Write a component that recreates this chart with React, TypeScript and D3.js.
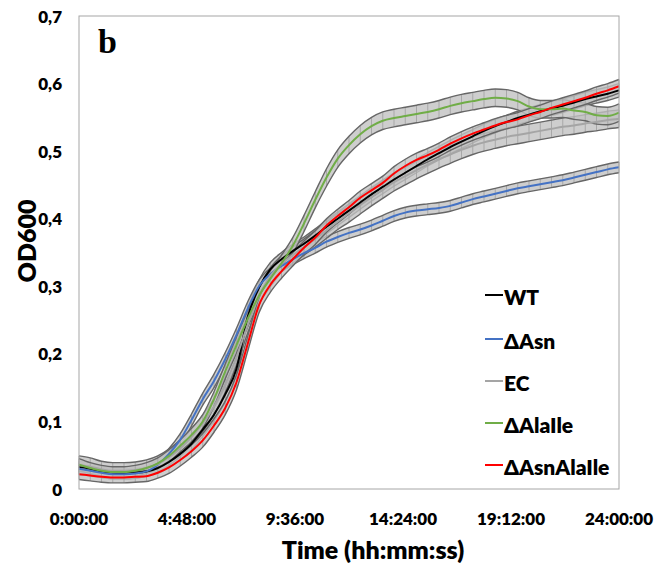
import React from "react";
import * as d3 from "d3";

// Time points (hours)
const hours = [0,0.5,1,1.5,2,2.5,3,3.5,4,4.5,5,5.5,6,6.5,7,7.5,8,8.5,9,9.5,10,10.5,11,11.5,12,12.5,13,13.5,14,14.5,15,15.5,16,16.5,17,17.5,18,18.5,19,19.5,20,20.5,21,21.5,22,22.5,23,23.5,24];

const seriesNames = ["WT", "ΔAsn", "EC", "ΔAlaIle", "ΔAsnAlaIle"];
const seriesColors = ["#000000", "#4472C4", "#A5A5A5", "#70AD47", "#FF0000"];

const wtMean = [0.033,0.030,0.026,0.024,0.023,0.024,0.026,0.031,0.040,0.052,0.067,0.088,0.110,0.140,0.178,0.255,0.298,0.325,0.340,0.352,0.363,0.375,0.388,0.400,0.412,0.424,0.436,0.447,0.458,0.468,0.478,0.488,0.497,0.506,0.514,0.522,0.530,0.537,0.543,0.549,0.554,0.559,0.563,0.567,0.572,0.577,0.581,0.585,0.590];
const wtSd = [0.008,0.008,0.007,0.007,0.007,0.007,0.007,0.008,0.008,0.009,0.009,0.010,0.010,0.011,0.011,0.011,0.011,0.010,0.010,0.010,0.010,0.010,0.010,0.010,0.010,0.010,0.010,0.010,0.010,0.010,0.010,0.010,0.010,0.010,0.010,0.010,0.010,0.010,0.010,0.010,0.010,0.010,0.010,0.010,0.010,0.010,0.010,0.010,0.010];

const asnMean = [0.030,0.027,0.024,0.022,0.022,0.023,0.026,0.036,0.052,0.073,0.102,0.133,0.160,0.192,0.228,0.267,0.300,0.318,0.330,0.340,0.349,0.357,0.366,0.373,0.379,0.384,0.390,0.397,0.404,0.409,0.412,0.414,0.416,0.419,0.424,0.429,0.433,0.437,0.441,0.445,0.448,0.451,0.454,0.457,0.461,0.465,0.469,0.473,0.476];
const asnSd = [0.008,0.008,0.007,0.007,0.007,0.007,0.007,0.008,0.008,0.009,0.009,0.009,0.010,0.010,0.010,0.010,0.009,0.009,0.008,0.008,0.008,0.008,0.008,0.008,0.008,0.008,0.008,0.008,0.008,0.008,0.008,0.008,0.008,0.008,0.008,0.008,0.008,0.008,0.008,0.008,0.008,0.008,0.008,0.008,0.008,0.008,0.008,0.008,0.008];

const ecMean = [0.035,0.033,0.029,0.027,0.027,0.028,0.031,0.037,0.047,0.060,0.077,0.097,0.122,0.155,0.195,0.243,0.285,0.315,0.333,0.346,0.358,0.370,0.383,0.396,0.408,0.420,0.432,0.443,0.454,0.463,0.472,0.480,0.488,0.495,0.502,0.508,0.513,0.517,0.521,0.524,0.527,0.530,0.533,0.536,0.538,0.541,0.543,0.546,0.548];
const ecSd = [0.014,0.013,0.012,0.012,0.012,0.012,0.012,0.012,0.012,0.012,0.012,0.012,0.012,0.012,0.012,0.012,0.012,0.012,0.012,0.012,0.012,0.012,0.012,0.012,0.013,0.013,0.013,0.013,0.013,0.013,0.013,0.013,0.013,0.013,0.013,0.013,0.013,0.013,0.013,0.013,0.013,0.013,0.013,0.013,0.013,0.013,0.013,0.013,0.013];

const alaIleMean = [0.036,0.031,0.027,0.025,0.025,0.027,0.031,0.038,0.049,0.064,0.080,0.100,0.133,0.174,0.213,0.252,0.286,0.311,0.334,0.360,0.393,0.428,0.461,0.489,0.509,0.525,0.537,0.545,0.549,0.552,0.555,0.558,0.562,0.567,0.571,0.574,0.577,0.579,0.578,0.574,0.566,0.562,0.562,0.563,0.560,0.558,0.553,0.552,0.557];
const alaIleSd = [0.009,0.008,0.008,0.008,0.008,0.008,0.008,0.008,0.009,0.009,0.010,0.010,0.011,0.011,0.012,0.012,0.012,0.012,0.012,0.012,0.012,0.012,0.013,0.013,0.013,0.013,0.013,0.013,0.013,0.013,0.013,0.013,0.013,0.013,0.013,0.013,0.013,0.013,0.013,0.013,0.013,0.013,0.013,0.013,0.013,0.013,0.013,0.013,0.013];

const asnAlaIleMean = [0.022,0.020,0.018,0.017,0.017,0.018,0.019,0.024,0.032,0.043,0.056,0.072,0.094,0.120,0.158,0.215,0.272,0.302,0.322,0.340,0.357,0.372,0.390,0.404,0.417,0.431,0.442,0.453,0.467,0.478,0.487,0.494,0.502,0.511,0.519,0.526,0.532,0.538,0.543,0.547,0.553,0.558,0.564,0.569,0.574,0.579,0.585,0.590,0.596];
const asnAlaIleSd = [0.008,0.008,0.008,0.008,0.008,0.008,0.008,0.008,0.009,0.009,0.009,0.010,0.010,0.010,0.011,0.011,0.011,0.011,0.010,0.010,0.010,0.010,0.010,0.010,0.010,0.010,0.010,0.010,0.010,0.010,0.010,0.010,0.010,0.010,0.010,0.010,0.010,0.010,0.010,0.010,0.010,0.010,0.010,0.010,0.010,0.010,0.010,0.010,0.010];

const yTicks = [0, 0.1, 0.2, 0.3, 0.4, 0.5, 0.6, 0.7];
const yTickLabels = ["0", "0,1", "0,2", "0,3", "0,4", "0,5", "0,6", "0,7"];
const xTicks = [0, 4.8, 9.6, 14.4, 19.2, 24];
const xTickLabels = ["0:00:00", "4:48:00", "9:36:00", "14:24:00", "19:12:00", "24:00:00"];

const means = [wtMean, asnMean, ecMean, alaIleMean, asnAlaIleMean];
const sds = [wtSd, asnSd, ecSd, alaIleSd, asnAlaIleSd];

const FONT = "Lato, 'Open Sans', 'DejaVu Sans', sans-serif";
const WEIGHT = 800;

export default function App() {
  const x = d3.scaleLinear().domain([0, 24]).range([79, 619]);
  const y = d3.scaleLinear().domain([0, 0.7]).range([489, 16]);

  const line = d3
    .line<number>()
    .x((_, i) => x(hours[i]))
    .y((d) => y(d))
    .curve(d3.curveMonotoneX);

  const bands = means.map((m, s) => {
    const pts = m.map((v, i) => ({ t: hours[i], lo: v - sds[s][i], hi: v + sds[s][i] }));
    const area = d3
      .area<{ t: number; lo: number; hi: number }>()
      .x((d) => x(d.t))
      .y0((d) => y(d.lo))
      .y1((d) => y(d.hi))
      .curve(d3.curveMonotoneX);
    const edgeLo = d3
      .line<{ t: number; lo: number; hi: number }>()
      .x((d) => x(d.t))
      .y((d) => y(d.lo))
      .curve(d3.curveMonotoneX);
    const edgeHi = d3
      .line<{ t: number; lo: number; hi: number }>()
      .x((d) => x(d.t))
      .y((d) => y(d.hi))
      .curve(d3.curveMonotoneX);
    return { pts, area: area(pts) || "", lo: edgeLo(pts) || "", hi: edgeHi(pts) || "" };
  });

  const legendY = [295, 339, 381, 423, 465];

  return (
    <svg
      width={655}
      height={567}
      style={{ position: "absolute", left: 0, top: 0, background: "#fff" }}
    >
      <rect x={0} y={0} width={655} height={567} fill="#fff" />
      {/* error bands */}
      {bands.map((b, s) => (
        <g key={"band" + s}>
          <path d={b.area} fill="#c2c2c2" fillOpacity={0.8} />
          {b.pts.map((p, i) => (
            <line
              key={i}
              x1={x(p.t)}
              x2={x(p.t)}
              y1={y(p.lo)}
              y2={y(p.hi)}
              stroke="#a8a8a8"
              strokeWidth={1}
            />
          ))}
          <path d={b.lo} fill="none" stroke="#666666" strokeWidth={1.4} />
          <path d={b.hi} fill="none" stroke="#666666" strokeWidth={1.4} />
        </g>
      ))}
      {/* series lines */}
      {means.map((m, s) => (
        <path
          key={"line" + s}
          d={line(m) || ""}
          fill="none"
          stroke={seriesColors[s]}
          strokeWidth={2}
        />
      ))}
      {/* plot border */}
      <rect x={79} y={16} width={540} height={473} fill="none" stroke="#a6a6a6" strokeWidth={1} />

      {/* y ticks */}
      {yTicks.map((v, i) => (
        <text
          key={"yt" + i}
          x={62}
          y={y(v)}
          textAnchor="end"
          dominantBaseline="central"
          fontFamily={FONT}
          fontWeight={WEIGHT}
          fontSize={17}
          fill="#000"
        >
          {yTickLabels[i]}
        </text>
      ))}
      {/* x ticks */}
      {xTicks.map((v, i) => (
        <text
          key={"xt" + i}
          x={x(v)}
          y={518}
          textAnchor="middle"
          dominantBaseline="central"
          fontFamily={FONT}
          fontWeight={WEIGHT}
          fontSize={17}
          fill="#000"
        >
          {xTickLabels[i]}
        </text>
      ))}
      {/* axis titles */}
      <text
        x={373}
        y={559}
        textAnchor="middle"
        fontFamily={FONT}
        fontWeight={WEIGHT}
        fontSize={25}
        fill="#000"
      >
        Time (hh:mm:ss)
      </text>
      <text
        transform="translate(26,241) rotate(-90)"
        textAnchor="middle"
        dominantBaseline="central"
        fontFamily={FONT}
        fontWeight={WEIGHT}
        fontSize={25}
        fill="#000"
      >
        OD600
      </text>
      {/* panel label */}
      <text
        x={98}
        y={53}
        fontFamily="'Liberation Serif', 'Times New Roman', serif"
        fontWeight="bold"
        fontSize={34}
        fill="#000"
      >
        b
      </text>
      {/* legend */}
      {seriesNames.map((n, i) => (
        <g key={"lg" + i}>
          <line x1={485} x2={503} y1={legendY[i]} y2={legendY[i]} stroke={seriesColors[i]} strokeWidth={2} />
          <text
            x={504}
            y={legendY[i] + 1}
            dominantBaseline="central"
            fontFamily={FONT}
            fontWeight={WEIGHT}
            fontSize={21}
            fill="#000"
          >
            {n}
          </text>
        </g>
      ))}
    </svg>
  );
}
